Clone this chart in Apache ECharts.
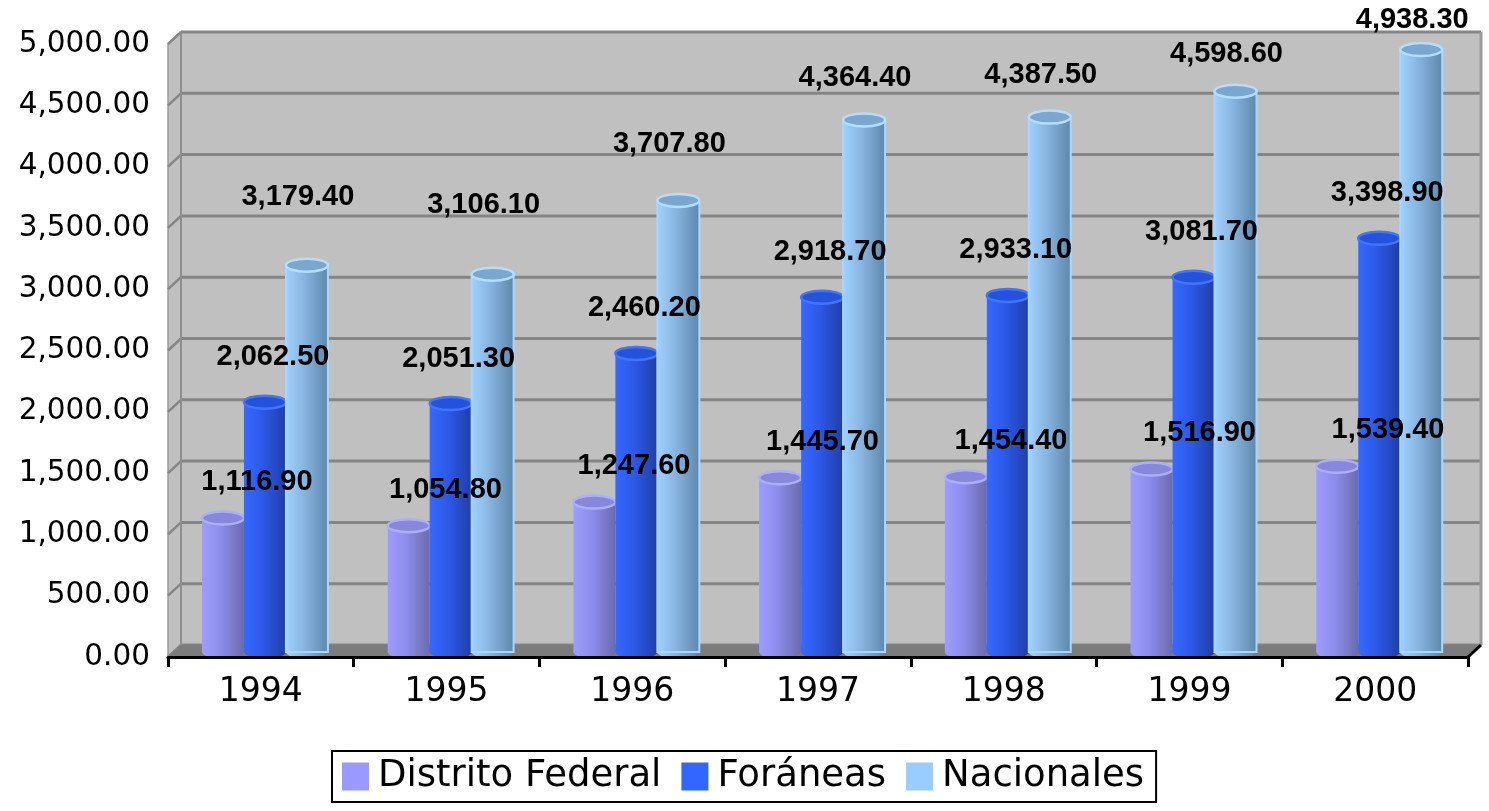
<!DOCTYPE html>
<html>
<head>
<meta charset="utf-8">
<script src="https://cdn.jsdelivr.net/npm/echarts@6/dist/echarts.min.js"></script>
<style>
html,body{margin:0;padding:0;background:#fff;}
#chart{width:1489px;height:811px;}
</style>
</head>
<body>
<div id="chart"></div>
<script>
// ---- data ----
const categories = ['1994', '1995', '1996', '1997', '1998', '1999', '2000'];
const seriesNames = ['Distrito Federal', 'Foráneas', 'Nacionales'];
const distritoFederal = [1116.9, 1054.8, 1247.6, 1445.7, 1454.4, 1516.9, 1539.4];
const foraneas = [2062.5, 2051.3, 2460.2, 2918.7, 2933.1, 3081.7, 3398.9];
const nacionales = [3179.4, 3106.1, 3707.8, 4364.4, 4387.5, 4598.6, 4938.3];
const yMin = 0, yMax = 5000, yInterval = 500;

// ---- styling ----
const DX = 13, DY = -12; // depth offset of back wall
const flatColors = ['#9999ff', '#3366ff', '#99ccff'];
const bodyGrad = [
  ['#9d9dff', '#8c8cec', '#6b6baa'],
  ['#3669ff', '#2c58e6', '#1f3ea6'],
  ['#a2d2ff', '#86b4df', '#5c85aa']
];
const capFill = ['#8787dc', '#2452dc', '#7aa6cf'];
const capRim = ['#aeaeff', '#4274ff', '#b4deff'];
const barOffsets = [-0.204, 0.022, 0.248];
const fmt = v => v.toLocaleString('en-US', {minimumFractionDigits: 2, maximumFractionDigits: 2});

function labelPos(k, i, v) {
  if (k === 0) return [34 + 2.8 * i, 38];
  if (k === 1) return [8, 47];
  return [-9, 70 - 0.0216 * (v - 3179)];
}

function makeCylRender(k) {
  return function (params, api) {
    const ci = api.value(0), v = api.value(1);
    const top = api.coord([ci, v]);
    const base = api.coord([ci, 0]);
    const catW = api.size([1, 0])[0];
    const bw = catW * 0.226;
    const cx = top[0] + catW * barOffsets[k];
    const ty = top[1] - 2;
    const by = base[1] - 5;
    const rx = bw / 2, ry = 6.5;
    const grad = new echarts.graphic.LinearGradient(0, 0, 1, 0, [
      {offset: 0, color: bodyGrad[k][0]},
      {offset: 0.45, color: bodyGrad[k][1]},
      {offset: 1, color: bodyGrad[k][2]}
    ]);
    const lp = labelPos(k, ci, v);
    const children = [
      {type: 'ellipse', shape: {cx: cx, cy: by, rx: rx, ry: ry}, style: {fill: grad}},
      {type: 'rect', shape: {x: cx - rx, y: ty, width: bw, height: by - ty},
        style: k === 2 ? {fill: grad, stroke: '#a8d6ff', lineWidth: 2} : {fill: grad}},
      {type: 'ellipse', shape: {cx: cx, cy: ty, rx: rx, ry: ry},
        style: {fill: capFill[k], stroke: capRim[k], lineWidth: 2.5}},
      {type: 'text', z2: 1000,
        style: {text: fmt(v), x: cx + lp[0], y: top[1] - lp[1],
          align: 'center', verticalAlign: 'middle',
          fill: '#000', fontSize: 29, fontWeight: 'bold',
          fontFamily: "'Liberation Sans', Arial, sans-serif"}}
    ];
    return {type: 'group', children: children};
  };
}

function decorRender(params, api) {
  const cs = params.coordSys;
  const x = cs.x, y = cs.y, w = cs.width, h = cs.height;
  const children = [];
  children.push({type: 'rect', shape: {x: x + DX, y: y + DY, width: w, height: h},
    style: {fill: '#c0c0c0'}});
  children.push({type: 'polygon', shape: {points: [[x, y], [x + DX, y + DY], [x + DX, y + h + DY], [x, y + h]]},
    style: {fill: '#c0c0c0', stroke: '#9a9a9a', lineWidth: 1.5}});
  for (let t = yMin; t <= yMax; t += yInterval) {
    const cy = api.coord([0, t])[1];
    children.push({type: 'line', shape: {x1: x + DX, y1: cy + DY, x2: x + w + DX, y2: cy + DY},
      style: {stroke: '#858585', lineWidth: 3}});
    children.push({type: 'line', shape: {x1: x, y1: cy, x2: x + DX, y2: cy + DY},
      style: {stroke: '#858585', lineWidth: 2.5}});
  }
  children.push({type: 'line', shape: {x1: x + DX, y1: y + DY, x2: x + DX, y2: y + h + DY},
    style: {stroke: '#8e8e8e', lineWidth: 2}});
  children.push({type: 'line', shape: {x1: x + w + DX, y1: y + DY, x2: x + w + DX, y2: y + h + DY},
    style: {stroke: '#9a9a9a', lineWidth: 3}});
  children.push({type: 'polygon', shape: {points: [[x, y + h], [x + DX, y + h + DY], [x + w + DX, y + h + DY], [x + w, y + h]]},
    style: {fill: '#7c7c7c'}});
  children.push({type: 'line', shape: {x1: x + w, y1: y + h, x2: x + w + DX, y2: y + h + DY},
    style: {stroke: '#000', lineWidth: 3}});
  return {type: 'group', children: children};
}

const chart = echarts.init(document.getElementById('chart'), null, {renderer: 'canvas'});
const dataSets = [distritoFederal, foraneas, nacionales];

const series = [{
  type: 'custom', name: '_decor', z: 1, silent: true,
  renderItem: decorRender, data: [[0, 0]], legendHoverLink: false
}];
dataSets.forEach((arr, k) => {
  series.push({
    type: 'custom', name: seriesNames[k], z: 2,
    itemStyle: {color: flatColors[k]},
    renderItem: makeCylRender(k),
    encode: {x: 0, y: 1},
    data: arr.map((v, i) => [i, v])
  });
});

chart.setOption({
  animation: false,
  backgroundColor: '#fff',
  grid: {left: 168, right: 21, top: 44, bottom: 154},
  xAxis: {
    type: 'category', data: categories, z: 5,
    axisLine: {lineStyle: {color: '#000', width: 3}},
    axisTick: {show: true, length: 10, lineStyle: {color: '#000', width: 3}},
    axisLabel: {margin: 19, color: '#000', fontSize: 33, fontFamily: "'DejaVu Sans', sans-serif"},
    splitLine: {show: false}
  },
  yAxis: {
    type: 'value', min: yMin, max: yMax, interval: yInterval,
    axisLine: {show: false}, axisTick: {show: false},
    splitLine: {show: false},
    axisLabel: {margin: 18, color: '#000', fontSize: 29.5, fontFamily: "'DejaVu Sans', sans-serif",
      formatter: v => fmt(v)}
  },
  legend: {
    data: seriesNames,
    left: 332, top: 751,
    icon: 'rect', itemWidth: 27, itemHeight: 28, itemGap: 20,
    padding: [7, 12, 7, 10],
    borderColor: '#000', borderWidth: 2, backgroundColor: '#fff',
    textStyle: {color: '#000', fontSize: 37, fontFamily: "'DejaVu Sans', sans-serif", padding: [0, 0, 0, 4]}
  },
  series: series
});
</script>
</body>
</html>
